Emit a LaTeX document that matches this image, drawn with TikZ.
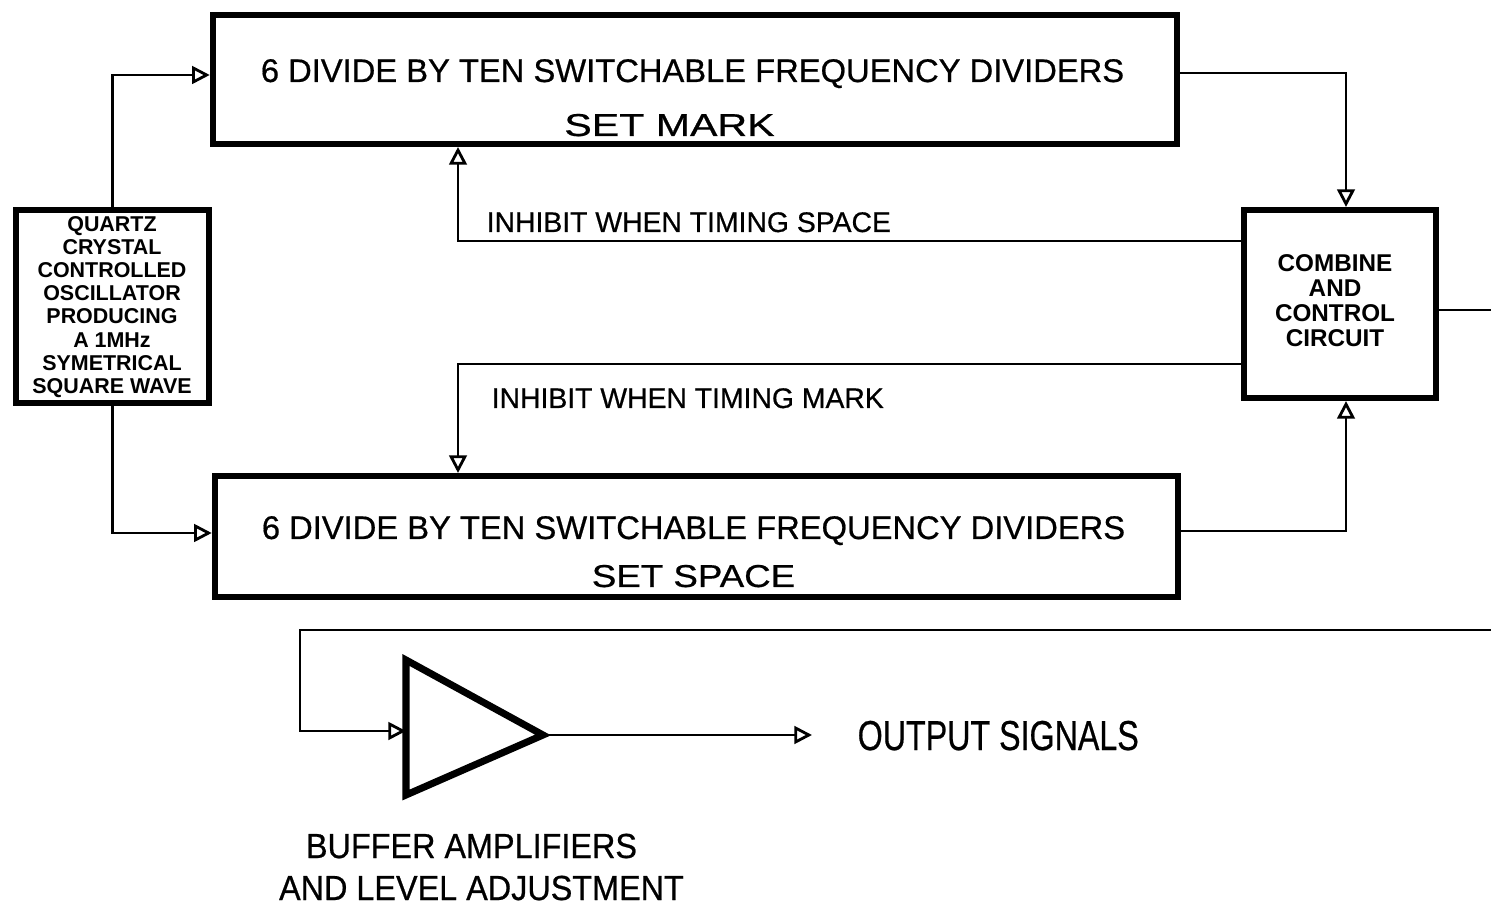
\documentclass[tikz,border=0pt]{standalone}
\usepackage{fontspec}
\setmainfont{Liberation Sans}
\newfontfamily\heavy[FakeBold=0.6]{Liberation Sans}
\usetikzlibrary{arrows.meta}
\newcommand{\myfs}[1]{\fontsize{#1}{#1}\selectfont}
\newcommand{\sx}[2]{\scalebox{#1}[1]{#2}}
\begin{document}
\begin{tikzpicture}[x=0.01cm,y=-0.01cm,
  box/.style={draw, line width=1.7pt, inner sep=0pt},
  wire/.style={line width=0.8pt},
  arr/.style={wire, -{Triangle[open,length=5pt,width=5pt,line width=0.8pt]}},
  txt/.style={inner sep=0pt, anchor=base, font=\heavy}]
\useasboundingbox (0,0) rectangle (1491,907);

% boxes
\node[box, minimum width=9.64cm, minimum height=1.29cm] (top) at (695,79.5) {};
\node[box, minimum width=9.63cm, minimum height=1.21cm] (bot) at (696.5,536.5) {};
\node[box, minimum width=1.92cm, minimum height=1.93cm] (osc) at (112.5,306.5) {};
\node[box, minimum width=1.92cm, minimum height=1.88cm] (comb) at (1340,304) {};

% box texts
\node[txt] (t1) at (692.5,82) {\myfs{9.3}6 DIVIDE BY TEN SWITCHABLE FREQUENCY DIVIDERS};
\node[txt] (t2) at (669.5,136) {\myfs{9}\sx{1.3}{SET MARK}};
\node[txt] (b1) at (693.5,539) {\myfs{9.3}6 DIVIDE BY TEN SWITCHABLE FREQUENCY DIVIDERS};
\node[txt] (b2) at (693.5,587) {\myfs{9}\sx{1.16}{SET SPACE}};
\node[inner sep=0pt, align=center, font=\bfseries\fontsize{6.1}{6.6}\selectfont] (osct) at (112,307)
  {QUARTZ\\CRYSTAL\\CONTROLLED\\OSCILLATOR\\PRODUCING\\A 1MHz\\SYMETRICAL\\SQUARE WAVE};
\node[inner sep=0pt, align=center, font=\bfseries\fontsize{6.9}{7.1}\selectfont] (combt) at (1335,300.5)
  {COMBINE\\AND\\CONTROL\\CIRCUIT};

% labels
\node[txt, anchor=base west] (l1) at (486,232) {\myfs{8.06}INHIBIT WHEN TIMING SPACE};
\node[txt, anchor=base west] (l2) at (491,408) {\myfs{8.06}INHIBIT WHEN TIMING MARK};

% amplifier
\coordinate (ampin) at (406,731);
\coordinate (ampout) at (543,735);
\draw[line width=2pt, line join=miter] (406,660) -- (ampout) -- (406,795) -- cycle;
\coordinate (outtip) at (812,735);
\node[txt, anchor=base west] (out) at (857,750) {\myfs{11.9}\sx{0.77}{OUTPUT SIGNALS}};
\node[txt] (buf1) at (471.5,858) {\myfs{9.9}\sx{0.93}{BUFFER AMPLIFIERS}};
\node[txt] (buf2) at (481.5,900) {\myfs{9.9}\sx{0.93}{AND LEVEL ADJUSTMENT}};

% connectors
\draw[arr] (osc.north) |- (top.west |- 0,75);
\draw[arr] (osc.south) |- (bot.west |- 0,533);
\draw[arr] (top.east |- 0,73) -| (1346,0 |- comb.north);
\draw[arr] (bot.east |- 0,531) -| (1346,0 |- comb.south);
\draw[arr] (comb.west |- 0,241) -| (458,0 |- top.south);
\draw[arr] (comb.west |- 0,364) -| (458,0 |- bot.north);
\coordinate (edge1) at (1491,310);
\draw[wire] (comb.east |- 0,310) -- (edge1);
\coordinate (edge2) at (1491,630);
\draw[arr] (edge2) -- (300,630) |- (ampin);
\draw[arr] (ampout) -- (outtip);
\end{tikzpicture}
\end{document}
